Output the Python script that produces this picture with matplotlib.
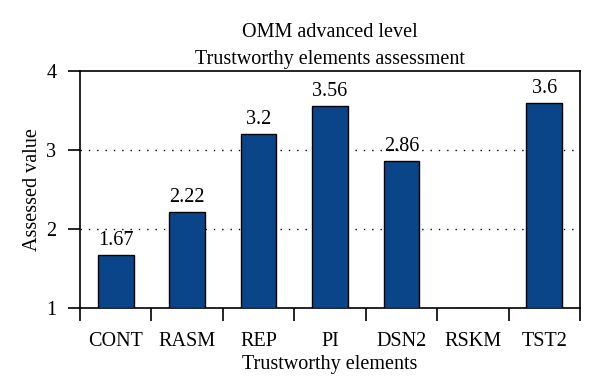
import numpy as np
import matplotlib
matplotlib.use("Agg")
import matplotlib.pyplot as plt

categories = ["CONT", "RASM", "REP", "PI", "DSN2", "RSKM", "TST2"]
values = [1.67, 2.22, 3.2, 3.56, 2.86, np.nan, 3.6]
value_labels = ["1.67", "2.22", "3.2", "3.56", "2.86", "", "3.6"]
yticks = [1, 2, 3, 4]

plt.rcParams["font.family"] = ["Liberation Serif", "DejaVu Serif"]
plt.rcParams["font.size"] = 14.5

fig = plt.figure(figsize=(6, 3.92), dpi=100)
ax = fig.add_axes([80 / 600, 1 - 308 / 392, 500 / 600, 237 / 392])

x = np.arange(len(categories))
heights = [v - 1 if not np.isnan(v) else 0 for v in values]
bars = ax.bar(x, heights, bottom=1, width=0.5, color="#0b4589",
              edgecolor="black", linewidth=1.0, zorder=3)
for xi, v, lab in zip(x, values, value_labels):
    if lab:
        ax.text(xi, v + 0.06, lab, ha="center", va="bottom")

ax.set_xlim(-0.5, len(categories) - 0.5)
ax.set_ylim(1, 4)
ax.set_yticks(yticks)
ax.set_xticks(x)
ax.set_xticklabels(categories)
ax.set_xticks(np.arange(-0.5, len(categories)), minor=True)
ax.tick_params(axis="x", which="major", length=0, pad=17)
ax.tick_params(axis="x", which="minor", length=9, direction="out", width=1.2)
ax.tick_params(axis="y", length=9, direction="out", width=1.2, pad=8)
for s in ax.spines.values():
    s.set_linewidth(1.2)

# dotted reference lines at 2 and 3
for g in [2, 3]:
    ax.axhline(g, color="black", linestyle=(0, (1, 5)), linewidth=1.0, zorder=1)

ax.set_xlabel("Trustworthy elements", labelpad=3)
ax.set_ylabel("Assessed value", labelpad=3)
ax.set_title("OMM advanced level\nTrustworthy elements assessment",
             fontsize=14.5, pad=5, linespacing=1.6)

fig.savefig("out.png", dpi=100)
